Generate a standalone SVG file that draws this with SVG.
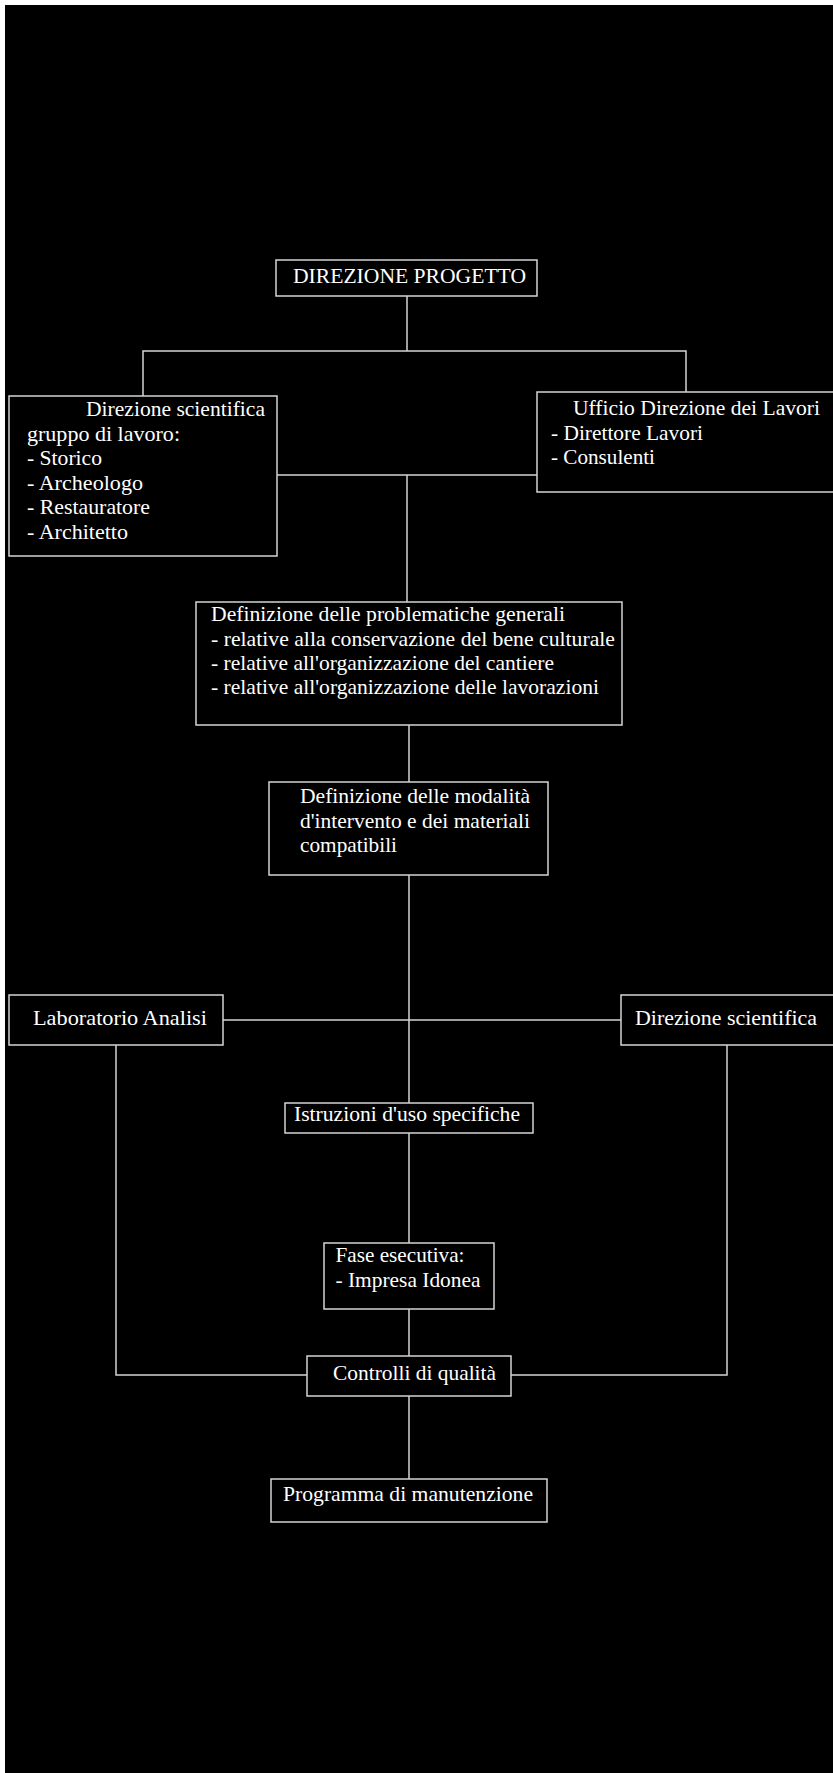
<svg xmlns="http://www.w3.org/2000/svg" width="833" height="1773" viewBox="0 0 833 1773">
<style>
.box{fill:#000;stroke:#d4d4d4;stroke-width:1.5}
.ln{fill:none;stroke:#d4d4d4;stroke-width:1.5}
text{font-family:"Liberation Serif","Times New Roman",serif;font-size:21px;fill:#fff}
</style>
<rect x="0" y="0" width="833" height="1773" fill="#fff"/>
<rect x="5" y="5" width="828" height="1768" fill="#000"/>
<g id="connectors">
<path class="ln" d="M407,296 V351"/>
<path class="ln" d="M143,396 V351 H686 V392"/>
<path class="ln" d="M277,475 H537"/>
<path class="ln" d="M407,475 V602"/>
<path class="ln" d="M409,725 V782"/>
<path class="ln" d="M409,875 V1103"/>
<path class="ln" d="M223,1020 H621"/>
<path class="ln" d="M116,1045 V1375 H307"/>
<path class="ln" d="M727,1045 V1375 H511"/>
<path class="ln" d="M409,1133 V1243"/>
<path class="ln" d="M409,1309 V1356"/>
<path class="ln" d="M409,1396 V1479"/>
</g>
<g id="n1">
<rect class="box" x="276" y="260" width="261" height="36"/>
<text x="293" y="283" textLength="233" lengthAdjust="spacingAndGlyphs">DIREZIONE PROGETTO</text>
</g>
<g id="n2">
<rect class="box" x="9" y="396" width="268" height="160"/>
<text x="86" y="416" textLength="179" lengthAdjust="spacingAndGlyphs">Direzione scientifica</text>
<text x="27" y="440.5" textLength="153" lengthAdjust="spacingAndGlyphs">gruppo di lavoro:</text>
<text x="27" y="465" textLength="75" lengthAdjust="spacingAndGlyphs">- Storico</text>
<text x="27" y="490" textLength="116" lengthAdjust="spacingAndGlyphs">- Archeologo</text>
<text x="27" y="514" textLength="123" lengthAdjust="spacingAndGlyphs">- Restauratore</text>
<text x="27" y="539" textLength="101" lengthAdjust="spacingAndGlyphs">- Architetto</text>
</g>
<g id="n3">
<rect class="box" x="537" y="392" width="300" height="100"/>
<text x="573" y="415" textLength="247" lengthAdjust="spacingAndGlyphs">Ufficio Direzione dei Lavori</text>
<text x="551" y="440" textLength="152" lengthAdjust="spacingAndGlyphs">- Direttore Lavori</text>
<text x="551" y="464" textLength="104" lengthAdjust="spacingAndGlyphs">- Consulenti</text>
</g>
<g id="n4">
<rect class="box" x="196" y="602" width="426" height="123"/>
<text x="211" y="621" textLength="354" lengthAdjust="spacingAndGlyphs">Definizione delle problematiche generali</text>
<text x="211" y="645.5" textLength="404" lengthAdjust="spacingAndGlyphs">- relative alla conservazione del bene culturale</text>
<text x="211" y="670" textLength="343" lengthAdjust="spacingAndGlyphs">- relative all'organizzazione del cantiere</text>
<text x="211" y="694" textLength="388" lengthAdjust="spacingAndGlyphs">- relative all'organizzazione delle lavorazioni</text>
</g>
<g id="n5">
<rect class="box" x="269" y="782" width="279" height="93"/>
<text x="300" y="803" textLength="230" lengthAdjust="spacingAndGlyphs">Definizione delle modalità</text>
<text x="300" y="828" textLength="230" lengthAdjust="spacingAndGlyphs">d'intervento e dei materiali</text>
<text x="300" y="852" textLength="97" lengthAdjust="spacingAndGlyphs">compatibili</text>
</g>
<g id="n6">
<rect class="box" x="9" y="995" width="214" height="50"/>
<text x="33" y="1025" textLength="174" lengthAdjust="spacingAndGlyphs">Laboratorio Analisi</text>
</g>
<g id="n7">
<rect class="box" x="621" y="995" width="215" height="50"/>
<text x="635" y="1025" textLength="182" lengthAdjust="spacingAndGlyphs">Direzione scientifica</text>
</g>
<g id="n8">
<rect class="box" x="285" y="1103" width="248" height="30"/>
<text x="294" y="1121" textLength="226" lengthAdjust="spacingAndGlyphs">Istruzioni d'uso specifiche</text>
</g>
<g id="n9">
<rect class="box" x="324" y="1243" width="170" height="66"/>
<text x="335.5" y="1262" textLength="129" lengthAdjust="spacingAndGlyphs">Fase esecutiva:</text>
<text x="335.5" y="1287" textLength="145" lengthAdjust="spacingAndGlyphs">- Impresa Idonea</text>
</g>
<g id="n10">
<rect class="box" x="307" y="1356" width="204" height="40"/>
<text x="333" y="1380" textLength="163" lengthAdjust="spacingAndGlyphs">Controlli di qualità</text>
</g>
<g id="n11">
<rect class="box" x="271" y="1479" width="276" height="43"/>
<text x="283" y="1501" textLength="250" lengthAdjust="spacingAndGlyphs">Programma di manutenzione</text>
</g>
</svg>
